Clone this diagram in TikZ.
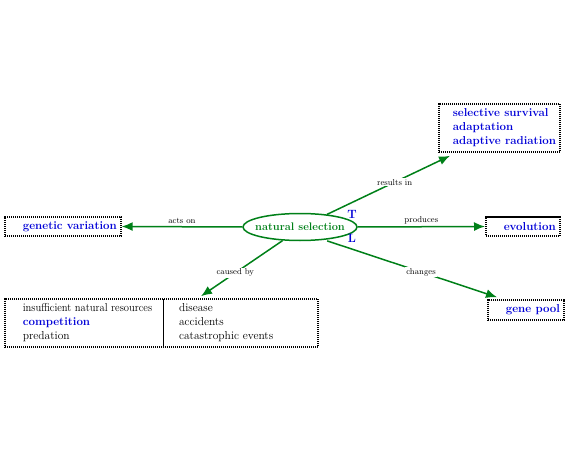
\documentclass[tikz,border=0pt]{standalone}
\usepackage{graphicx}
\usepackage{tikz}
\usetikzlibrary{positioning, arrows.meta, shapes.geometric}
\definecolor{SelGreen}{RGB}{0,128,24}
\definecolor{TermBlue}{RGB}{0,0,215}
\newcommand{\conceptterm}[1]{\textcolor{TermBlue}{\bfseries #1}}

\begin{document}
\begin{tikzpicture}[x=1pt, y=-1pt, font=\fontsize{11.5}{14}\selectfont,
    concept/.style={draw=black, line width=1.6pt, dash pattern=on 1.2pt off 0.8pt,
                    inner xsep=4pt, inner ysep=3pt, anchor=west},
    link/.style={draw=SelGreen, line width=1.5pt, -{Latex[length=11pt, width=9pt]}},
    linklabel/.style={font=\fontsize{8.5}{10}\selectfont, fill=white, inner sep=1pt}]
  \useasboundingbox (0,0) rectangle (569,454);

  % centre concept
  \node[ellipse, draw=SelGreen, line width=1.5pt, minimum width=114pt, minimum height=27pt,
        inner xsep=-6pt, inner ysep=0pt, text=SelGreen, font=\fontsize{11}{13}\selectfont\bfseries]
        (natsel) at (300,227) {natural selection};
  \node[text=TermBlue, font=\fontsize{12}{14}\selectfont\bfseries] (tmark) at (352,214.5) {T};
  \node[text=TermBlue, font=\fontsize{12}{14}\selectfont\bfseries] (lmark) at (352,238.5) {L};

  % outer concepts
  \node[concept, minimum height=19pt] (genvar) at (4,226.5) {\hspace*{14pt}\conceptterm{genetic variation}};
  \node[concept, minimum height=19pt] (evol) at (485,226.5) {\hspace*{14pt}\conceptterm{evolution}};
  \node[concept, minimum height=20pt] (genepool) at (487,310) {\hspace*{14pt}\conceptterm{gene pool}};
  \node[concept] (survival) at (438,128) {\begin{tabular}{@{\hspace{10pt}}l@{}}
      \conceptterm{selective survival}\\
      \conceptterm{adaptation}\\
      \conceptterm{adaptive radiation}
    \end{tabular}};
  \node[concept, inner ysep=0pt] (causes) at (4,323) {%
    \begin{tabular}{@{\hspace{14pt}}p{134pt}@{\hspace{6pt}}|@{\hspace{16pt}}p{105pt}@{\hspace{30pt}}}
      \rule{0pt}{12.8pt}\scalebox{0.92}[1]{insufficient natural resources} & disease\\
      \conceptterm{competition} & accidents\\
      predation & catastrophic events\rule[-7.2pt]{0pt}{7.2pt}
    \end{tabular}};

  % connectors
  \draw[link] (natsel.west) -- node[linklabel, above=1pt, fill=none] {acts on} (genvar.east);
  \draw[link] (natsel.east) -- node[linklabel, above=1pt, fill=none] {produces} (evol.west);
  \draw[link] (natsel.25) -- node[linklabel, pos=0.55] {results in}
    ([xshift=12pt, yshift=-3pt]survival.south west);
  \draw[link, shorten <=3pt] (natsel.-28) -- node[linklabel, pos=0.56] {changes}
    ([xshift=10pt, yshift=2pt]genepool.north west);
  \draw[link] (natsel.-142) -- node[linklabel, pos=0.58] {caused by}
    ([xshift=197pt, yshift=2pt]causes.north west);
\end{tikzpicture}
\end{document}
